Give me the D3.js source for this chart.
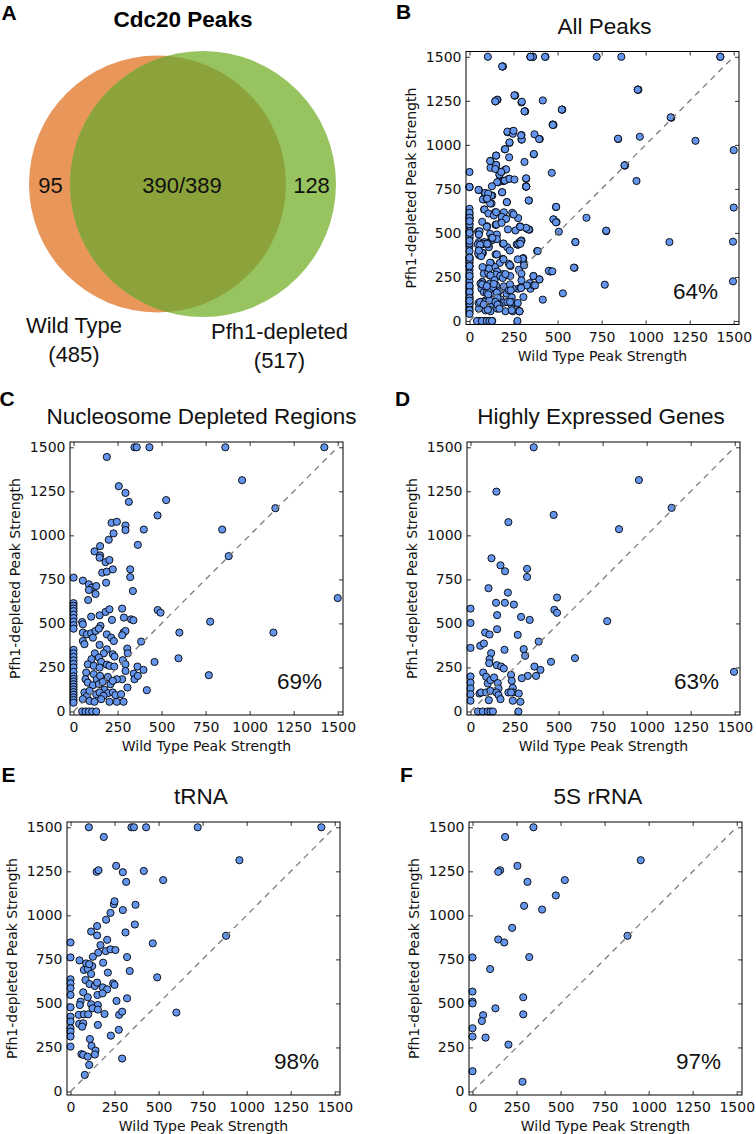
<!DOCTYPE html>
<html>
<head>
<meta charset="utf-8">
<script src="https://cdn.jsdelivr.net/npm/d3@7"></script>
<style>
  body { margin: 0; background: #fff; }
</style>
</head>
<body>
<svg id="fig" width="756" height="1134"></svg>
<script>
// ---- data ----
var tickValues = [0, 250, 500, 750, 1000, 1250, 1500];

var vennTitle = "Cdc20 Peaks";
var vennOnlyWT = 95;
var vennShared = "390/389";
var vennOnlyPfh1 = 128;
var vennTotalWT = 485;
var vennTotalPfh1 = 517;

// [wild type, pfh1-depleted]
var ndrPeaks = [
  [346,1500],[359,1500],[431,1500],[862,1500],[1424,1500],
  [189,1445],[957,1313],[257,1279],[295,1241],[314,1190],[526,1200],[477,1113],[1146,1154],
  [216,1071],[246,1077],[295,1056],[295,1030],[399,1033],[844,1033],[227,1011],[200,975],
  [365,946],[151,939],[119,909],[151,886],[148,873],[182,848],[204,860],[881,882],
  [163,788],[189,794],[223,807],[322,807],[322,763],[0,760],[53,743],[87,722],[104,703],
  [87,690],[129,712],[125,667],[83,633],[185,731],[337,684],
  [0,615],[0,600],[0,585],[0,570],[0,550],[0,530],[0,510],[0,490],[0,470],
  [100,538],[49,508],[53,495],[148,546],[182,565],[204,580],[218,520],[276,584],[286,533],
  [327,523],[340,518],[478,576],[494,561],[776,510],[601,448],[1135,448],[1500,644],
  [53,448],[76,438],[100,444],[125,457],[153,486],[144,470],[189,438],[214,419],[229,400],
  [53,400],[62,382],[110,419],[148,378],[284,448],[295,457],[276,433],[384,397],
  [189,353],[121,330],[172,330],[305,357],[308,330],[223,325],[233,312],[144,306],[157,281],
  [102,297],[81,268],[115,259],[148,249],[189,266],[204,259],[231,255],[280,291],[295,268],
  [460,281],[596,302],[768,206],[363,255],[397,236],[295,230],[276,183],[342,215],[346,183],
  [365,202],[246,183],[416,121],[306,136],
  [72,221],[68,183],[81,164],[115,212],[132,183],[151,202],[110,149],[144,155],[166,168],
  [195,196],[210,155],[223,174],[176,123],[195,104],[62,108],[76,89],[91,117],[129,98],
  [148,108],[170,89],[223,108],[238,93],[270,98],[53,70],[91,60],[119,55],[157,70],
  [204,55],[246,55],[284,55],
  [0,350],[0,330],[0,310],[0,290],[0,270],[0,250],[0,225],[0,200],[0,185],[0,170],
  [0,155],[0,140],[0,125],[0,110],[0,95],[0,80],[0,65],[0,50],
  [49,0],[68,0],[87,0],[106,0],[129,0]
];

var hegPeaks = [
  [359,1500],[147,1248],[472,1116],[215,1075],[956,1314],[1142,1156],[843,1035],[119,870],
  [170,830],[196,796],[321,810],[321,764],[102,700],[212,675],[0,584],[145,617],[195,617],
  [246,607],[491,647],[476,577],[491,560],[0,503],[151,547],[287,537],[336,520],[776,513],
  [151,467],[83,448],[108,437],[268,435],[387,397],[0,361],[55,373],[76,386],[302,354],
  [310,316],[117,331],[193,350],[593,303],[457,282],[108,297],[106,274],[149,263],[174,255],
  [189,244],[363,255],[397,236],[325,202],[372,202],[291,189],[1496,225],
  [0,199],[0,164],[0,131],[0,98],[0,61],[72,221],[89,197],[98,159],[113,178],[134,193],
  [155,161],[159,131],[230,208],[234,174],[240,134],[242,108],[51,102],[60,108],[89,108],
  [113,117],[147,108],[159,93],[215,108],[230,108],[274,102],[104,64],[170,70],[240,61],
  [283,55],
  [42,0],[70,0],[98,0],[113,0],[127,0],[272,0]
];

var trnaPeaks = [
  [104,1500],[346,1500],[360,1500],[429,1500],[722,1500],[1424,1500],
  [189,1445],[148,1247],[159,1256],[259,1281],[297,1245],[316,1190],[416,1252],[526,1200],
  [959,1313],[246,1063],[250,1080],[369,1060],[297,1030],[227,1014],[202,975],[365,948],
  [151,939],[117,908],[151,886],[312,903],[208,861],[170,831],[467,841],[883,884],[0,846],
  [157,788],[200,797],[227,807],[255,803],[0,761],[127,765],[321,763],[51,744],[89,727],
  [123,712],[76,690],[98,695],[106,723],[185,731],[117,667],[212,675],[336,684],
  [0,637],[0,614],[0,586],[0,548],[85,633],[108,610],[138,599],[151,618],[242,614],[250,605],
  [492,648],[183,591],[208,580],[72,563],[153,548],[182,557],[98,535],[321,529],[57,510],
  [0,478],[117,495],[155,491],[53,491],[261,514],[125,472],[155,465],[601,448],
  [0,425],[0,397],[0,359],[0,340],[47,435],[76,438],[100,438],[193,440],[276,435],[293,453],
  [49,384],[72,387],[66,368],[155,378],[274,350],[229,317],[110,298],[0,312],[0,255],
  [119,259],[142,232],[62,212],[72,208],[98,198],[138,210],[293,187],[106,151],[81,94]
];

var rrnaPeaks = [
  [346,1500],[185,1445],[955,1313],[255,1281],[157,1256],[146,1247],[312,1190],[524,1200],
  [473,1113],[293,1054],[395,1033],[225,929],[146,863],[180,846],[880,884],[0,761],[322,763],
  [100,695],[0,567],[0,510],[0,500],[288,535],[130,472],[60,433],[53,400],[288,438],
  [0,359],[0,312],[74,306],[204,266],[0,115],[284,55]
];

// peaks that only show up in the all-peaks panel
var otherPeaks = [
  [1500,970],[1496,450],[1283,1023],[967,1046],[948,795],[664,586],[530,157],[507,507],
  [450,285],[470,282],[0,440],[0,455],[0,40]
];

var allPeaks = ndrPeaks.concat(hegPeaks, trnaPeaks, rrnaPeaks, otherPeaks);

// ---- drawing ----
var sans = "'Liberation Sans', Arial, Helvetica, sans-serif";
var mono = "'DejaVu Sans', sans-serif";
var svg = d3.select("#fig");

function letter(txt, x, y) {
  svg.append("text").attr("x", x).attr("y", y).text(txt)
    .attr("font-family", sans).attr("font-weight", "bold").attr("font-size", 21);
}

// panel A: venn
(function(){
  var wt = {cx: 157.5, cy: 184, r: 128.5};
  var pf = {cx: 203, cy: 184, r: 133};
  var g = svg.append("g");
  svg.append("defs").append("clipPath").attr("id", "wtClip")
    .append("circle").attr("cx", wt.cx).attr("cy", wt.cy).attr("r", wt.r);
  g.append("circle").attr("cx", wt.cx).attr("cy", wt.cy).attr("r", wt.r).attr("fill", "#e9965a");
  g.append("circle").attr("cx", pf.cx).attr("cy", pf.cy).attr("r", pf.r).attr("fill", "#98c460");
  g.append("circle").attr("cx", pf.cx).attr("cy", pf.cy).attr("r", pf.r)
    .attr("clip-path", "url(#wtClip)").attr("fill", "#8ba33a");

  var lab = [
    [vennOnlyWT, 50.5, 193], [vennShared, 182, 193], [vennOnlyPfh1, 311.5, 193],
    ["Wild Type", 74, 333], ["(" + vennTotalWT + ")", 74, 362],
    ["Pfh1-depleted", 279.5, 338.5], ["(" + vennTotalPfh1 + ")", 279.5, 368]
  ];
  g.selectAll("text.v").data(lab).enter().append("text")
    .attr("x", function(d){ return d[1]; }).attr("y", function(d){ return d[2]; })
    .attr("text-anchor", "middle").attr("font-family", sans).attr("font-size", 22)
    .attr("fill", "#111").text(function(d){ return d[0]; });

  svg.append("text").attr("x", 183).attr("y", 26.5).attr("text-anchor", "middle")
    .attr("font-family", sans).attr("font-weight", "bold").attr("font-size", 22.5)
    .text(vennTitle);
  letter("A", 1.5, 19.5);
})();

var panels = [
  {letter: "B", lx: 396, ly: 18.5, title: "All Peaks", pct: "64%", pts: allPeaks, left: 466, top: 51.5, titleX: 604.5},
  {letter: "C", lx: -0.5, ly: 406, title: "Nucleosome Depleted Regions", pct: "69%", pts: ndrPeaks, left: 70, top: 442, titleX: 201.5},
  {letter: "D", lx: 395, ly: 406, title: "Highly Expressed Genes", pct: "63%", pts: hegPeaks, left: 467, top: 442, titleX: 601},
  {letter: "E", lx: 1.5, ly: 782, title: "tRNA", pct: "98%", pts: trnaPeaks, left: 67, top: 822, titleX: 201},
  {letter: "F", lx: 400, ly: 782, title: "5S rRNA", pct: "97%", pts: rrnaPeaks, left: 469, top: 822, titleX: 598}
];

var W = 273, H = 273;
var fmt = d3.format("d");

panels.forEach(function(p){
  var x = d3.scaleLinear().domain([-20, 1530]).range([0, W]);
  var y = d3.scaleLinear().domain([-20, 1530]).range([H, 0]);
  var g = svg.append("g").attr("transform", "translate(" + p.left + "," + p.top + ")");

  var axes = [
    [d3.axisBottom(x).tickFormat(fmt).tickPadding(7.5), "translate(0," + H + ")"],
    [d3.axisLeft(y).tickFormat(fmt).tickPadding(4.5), null],
    [d3.axisTop(x).tickFormat(""), null],
    [d3.axisRight(y).tickFormat(""), "translate(" + W + ",0)"]
  ];
  axes.forEach(function(a){
    var ax = g.append("g");
    if (a[1]) ax.attr("transform", a[1]);
    ax.call(a[0].tickValues(tickValues).tickSize(-4).tickSizeOuter(0));
    ax.select(".domain").remove();
    ax.selectAll("line").attr("stroke", "#000").attr("stroke-width", 0.8);
    ax.selectAll("text").attr("font-family", mono).attr("font-size", 14).attr("fill", "#111");
  });

  g.selectAll("circle").data(p.pts).enter().append("circle")
    .attr("cx", function(d){ return x(d[0]); })
    .attr("cy", function(d){ return y(d[1]); })
    .attr("r", 3.6)
    .attr("fill", "#6495ed").attr("stroke", "#000").attr("stroke-width", 0.9);

  g.append("line")
    .attr("x1", x(0)).attr("y1", y(0)).attr("x2", x(1500)).attr("y2", y(1500))
    .attr("stroke", "#7a7a7a").attr("stroke-width", 1.3).attr("stroke-dasharray", "6,5");

  g.append("rect").attr("width", W).attr("height", H)
    .attr("fill", "none").attr("stroke", "#000").attr("stroke-width", 1);

  g.append("text").attr("x", W / 2).attr("y", H + 36).attr("text-anchor", "middle")
    .attr("font-family", mono).attr("font-size", 14).attr("fill", "#111")
    .text("Wild Type Peak Strength");
  g.append("text").attr("transform", "translate(-50," + (H / 2) + ") rotate(-90)")
    .attr("text-anchor", "middle")
    .attr("font-family", mono).attr("font-size", 14).attr("fill", "#111")
    .text("Pfh1-depleted Peak Strength");

  g.append("text").attr("x", 207).attr("y", H - 26)
    .attr("font-family", sans).attr("font-size", 22.5).attr("fill", "#111").text(p.pct);

  svg.append("text").attr("x", p.titleX).attr("y", p.top - 18).attr("text-anchor", "middle")
    .attr("font-family", sans).attr("font-size", 22.5).attr("fill", "#111").text(p.title);

  letter(p.letter, p.lx, p.ly);
});
</script>
</body>
</html>
